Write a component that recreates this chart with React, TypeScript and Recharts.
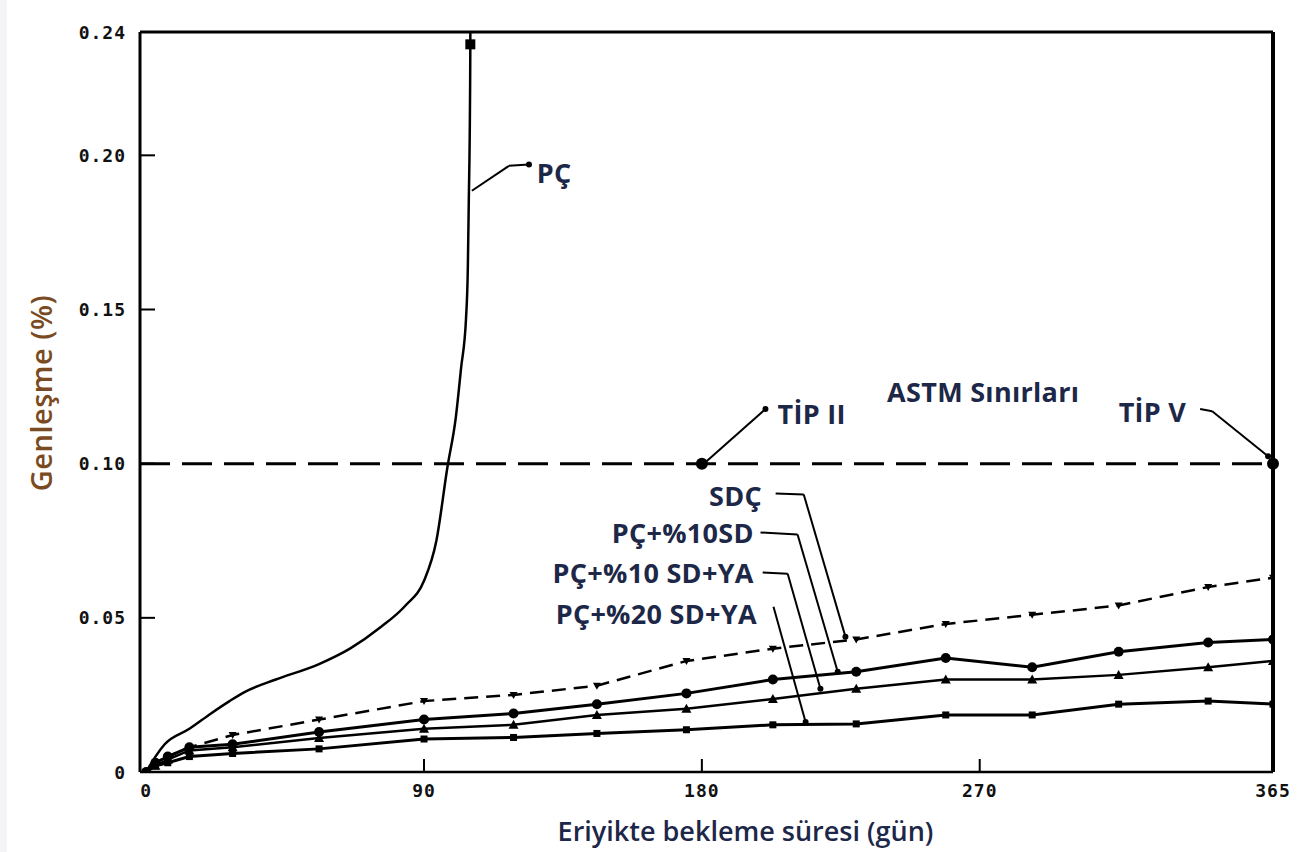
import React from 'react';
import { LineChart, Line, XAxis, YAxis, ReferenceLine, ReferenceDot } from 'recharts';

// days in solution, shared by the four blended cements
const days = [0, 3, 7, 14, 28, 56, 90, 119, 146, 175, 203, 230, 259, 287, 315, 344, 365];
const sdcValues = [0, 0.003, 0.005, 0.008, 0.012, 0.017, 0.023, 0.025, 0.028, 0.036, 0.04, 0.043, 0.048, 0.051, 0.054, 0.06, 0.063];
const pc10sdValues = [0, 0.003, 0.005, 0.008, 0.009, 0.013, 0.017, 0.019, 0.022, 0.0255, 0.03, 0.0325, 0.037, 0.034, 0.039, 0.042, 0.043];
const pc10sdyaValues = [0, 0.002, 0.004, 0.007, 0.008, 0.011, 0.014, 0.0153, 0.0185, 0.0205, 0.0237, 0.027, 0.03, 0.03, 0.0315, 0.034, 0.036];
const pc20sdyaValues = [0, 0.002, 0.003, 0.005, 0.006, 0.0075, 0.0107, 0.0112, 0.0125, 0.0137, 0.0153, 0.0156, 0.0185, 0.0185, 0.022, 0.023, 0.022];

// plain portland cement (last reading runs off the top of the chart)
const pcDays = [0, 3, 6, 14, 21, 27, 32, 42, 56, 66, 76, 84, 90, 94, 97.6, 100.3, 102, 103.6, 104.2, 104.5, 104.9, 105, 105];
const pcValues = [0, 0.005, 0.009, 0.014, 0.019, 0.023, 0.026, 0.030, 0.035, 0.040, 0.047, 0.054, 0.062, 0.075, 0.099, 0.115, 0.131, 0.147, 0.164, 0.185, 0.218, 0.236, 0.24];

// ASTM limit
const astmLimit = 0.1;
const astmMarkDays = [180, 365];

const xTicks = [0, 90, 180, 270, 365];
const xTickLabels = ['0', '90', '180', '270', '365'];
const yTicks = [0, 0.05, 0.1, 0.15, 0.2, 0.24];
const yTickLabels = ['0', '0.05', '0.10', '0.15', '0.20', '0.24'];

const pairs = (xs: number[], ys: number[]) => xs.map((x, i) => ({ x, y: ys[i] }));

const textColor = '#1d2747';
const labelFont = '"Open Sans", "Noto Sans", sans-serif';
const tickFont = '"DejaVu Sans Mono", "Liberation Mono", monospace';

const annotations = [
  { text: 'PÇ', x: 126.5, y: 0.1944, anchor: 'start' },
  { text: 'TİP II', x: 204.5, y: 0.1163, anchor: 'start' },
  { text: 'ASTM Sınırları', x: 240, y: 0.1235, anchor: 'start' },
  { text: 'TİP V', x: 315, y: 0.117, anchor: 'start' },
  { text: 'SDÇ', x: 199.5, y: 0.0897, anchor: 'end' },
  { text: 'PÇ+%10SD', x: 196.8, y: 0.0777, anchor: 'end' },
  { text: 'PÇ+%10 SD+YA', x: 196.8, y: 0.0647, anchor: 'end' },
  { text: 'PÇ+%20 SD+YA', x: 197.8, y: 0.0513, anchor: 'end' },
];

// leader lines from labels to curves
const leaders = [
  [[105.5, 0.1885], [117.5, 0.1966], [124, 0.197]],
  [[179.6, 0.0991], [200.6, 0.1177]],
  [[341.4, 0.1177], [345.3, 0.117], [363.4, 0.1024]],
  [[203.9, 0.0903], [213, 0.09], [226.5, 0.0439]],
  [[199, 0.0777], [211, 0.077], [224, 0.0325]],
  [[199.7, 0.0647], [207.8, 0.0643], [218.4, 0.027]],
  [[203.2, 0.0536], [213.6, 0.0162]],
];

const XTick = (props: any) => {
  const { x, y, payload, index } = props;
  const inner = payload.value > 0 && payload.value < 365;
  return (
    <g>
      {inner && <line x1={x} x2={x} y1={y - 18} y2={y - 31} stroke="#000" strokeWidth={2} />}
      <text x={x} y={y} textAnchor="middle" dominantBaseline="central" fontFamily={tickFont} fontWeight="bold" fontSize={18} letterSpacing={1} fill="#111">
        {xTickLabels[index]}
      </text>
    </g>
  );
};

const YTick = (props: any) => {
  const { x, y, payload, index } = props;
  const inner = payload.value > 0 && payload.value < 0.24;
  return (
    <g>
      {inner && <line x1={x + 14} x2={x + 29} y1={y} y2={y} stroke="#000" strokeWidth={2} />}
      <text x={x} y={y} textAnchor="end" dominantBaseline="central" fontFamily={tickFont} fontWeight="bold" fontSize={18} letterSpacing={1} fill="#111">
        {yTickLabels[index]}
      </text>
    </g>
  );
};

const YLabel = (props: any) => {
  const { viewBox } = props;
  const cx = viewBox.x + 40;
  const cy = viewBox.y + viewBox.height / 2 - 9;
  return (
    <text x={cx} y={cy} transform={`rotate(-90 ${cx} ${cy})`} textAnchor="middle" dominantBaseline="central" fontFamily={labelFont} fontWeight={600} fontSize={29} letterSpacing={0.5} fill="#7a4b22">
      Genleşme (%)
    </text>
  );
};

const XLabel = (props: any) => {
  const { viewBox } = props;
  const cx = viewBox.x + viewBox.width / 2 + 39;
  const cy = viewBox.y + 58;
  return (
    <text x={cx} y={cy} textAnchor="middle" dominantBaseline="central" fontFamily={labelFont} fontWeight={600} fontSize={27} fill={textColor}>
      Eriyikte bekleme süresi (gün)
    </text>
  );
};

const circleDot = (p: any) => <circle key={p.index} cx={p.cx} cy={p.cy} r={5} fill="#000" />;
const triDot = (p: any) => (
  <path key={p.index} d={`M${p.cx},${p.cy - 5}L${p.cx + 5},${p.cy + 4}L${p.cx - 5},${p.cy + 4}Z`} fill="#000" />
);
const invTriDot = (p: any) => (
  <path key={p.index} d={`M${p.cx - 4},${p.cy - 3}L${p.cx + 4},${p.cy - 3}L${p.cx},${p.cy + 4}Z`} fill="#000" />
);
const squareDot = (p: any) => <rect key={p.index} x={p.cx - 3.5} y={p.cy - 3.5} width={7} height={7} fill="#000" />;
const pcDot = (p: any) =>
  p.index === pcDays.length - 2 ? (
    <rect key={p.index} x={p.cx - 5} y={p.cy - 5} width={10} height={10} fill="#000" />
  ) : (
    <g key={p.index} />
  );

export default function App() {
  return (
    <div style={{ position: 'absolute', left: 0, top: 0, width: 1311, height: 852, background: '#fff' }}>
      <div style={{ position: 'absolute', left: 0, top: 0, width: 7, height: 852, background: '#f3f4f6' }} />
      <div style={{ position: 'absolute', left: 0, top: 0 }}>
        <LineChart width={1311} height={852} margin={{ top: 32, right: 38, bottom: 0, left: 0 }}>
          <XAxis
            type="number"
            dataKey="x"
            domain={[-2, 365]}
            ticks={xTicks}
            allowDataOverflow
            height={80}
            tickSize={0}
            tickMargin={18}
            tickLine={false}
            axisLine={{ stroke: '#000', strokeWidth: 2.5 }}
            tick={<XTick />}
            label={<XLabel />}
          />
          <YAxis
            type="number"
            domain={[0, 0.24]}
            ticks={yTicks}
            allowDataOverflow
            width={140}
            tickSize={0}
            tickMargin={14}
            tickLine={false}
            axisLine={{ stroke: '#000', strokeWidth: 3 }}
            tick={<YTick />}
            label={<YLabel />}
          />
          <ReferenceLine y={0.24} stroke="#000" strokeWidth={3} />
          <ReferenceLine x={365} stroke="#000" strokeWidth={4} />
          <ReferenceLine y={astmLimit} stroke="#000" strokeWidth={3} strokeDasharray="30 12" />
          {astmMarkDays.map((d) => (
            <ReferenceDot key={d} x={d} y={astmLimit} r={6} fill="#000" stroke="none" />
          ))}

          <Line data={pairs(pcDays, pcValues)} dataKey="y" type="monotone" stroke="#000" strokeWidth={2.5} dot={pcDot} isAnimationActive={false} />
          <Line data={pairs(days, sdcValues)} dataKey="y" type="linear" stroke="#000" strokeWidth={2.5} strokeDasharray="14 8" dot={invTriDot} isAnimationActive={false} />
          <Line data={pairs(days, pc10sdValues)} dataKey="y" type="linear" stroke="#000" strokeWidth={3} dot={circleDot} isAnimationActive={false} />
          <Line data={pairs(days, pc10sdyaValues)} dataKey="y" type="linear" stroke="#000" strokeWidth={2.5} dot={triDot} isAnimationActive={false} />
          <Line data={pairs(days, pc20sdyaValues)} dataKey="y" type="linear" stroke="#000" strokeWidth={3} dot={squareDot} isAnimationActive={false} />

          {leaders.map((pts, i) =>
            pts.slice(1).map((pt, j) => (
              <ReferenceLine
                key={`l-${i}-${j}`}
                segment={[{ x: pts[j][0], y: pts[j][1] }, { x: pt[0], y: pt[1] }]}
                stroke="#000"
                strokeWidth={2}
              />
            ))
          )}
          {leaders.map((pts, i) => (
            <ReferenceDot key={`a-${i}`} x={pts[pts.length - 1][0]} y={pts[pts.length - 1][1]} r={3} fill="#000" stroke="none" />
          ))}
          {annotations.map((a) => (
            <ReferenceDot
              key={a.text}
              x={a.x}
              y={a.y}
              r={0}
              shape={(p: any) => (
                <text x={p.cx} y={p.cy} textAnchor={a.anchor} dominantBaseline="central" fontFamily={labelFont} fontWeight={700} fontSize={27} letterSpacing={0.3} fill={textColor}>
                  {a.text}
                </text>
              )}
            />
          ))}
        </LineChart>
      </div>
    </div>
  );
}
